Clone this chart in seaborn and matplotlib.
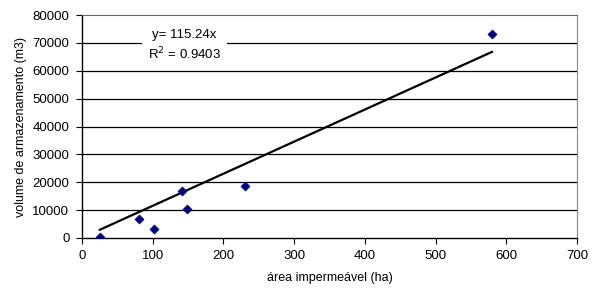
import numpy as np
import pandas as pd
import matplotlib
matplotlib.use("Agg")
import matplotlib.pyplot as plt
import seaborn as sns

# values
area = [25, 80, 102, 142, 149, 230, 580]
volume = [300, 6900, 3300, 16700, 10200, 18800, 73300]
slope = 115.24
r2 = 0.9403

df = pd.DataFrame({"area": area, "volume": volume})
trend = pd.DataFrame({"area": [min(area), max(area)]})
trend["volume"] = slope * trend["area"]

sns.set_style("white")
plt.rcParams["font.family"] = ["Liberation Sans", "DejaVu Sans"]
plt.rcParams["text.color"] = "black"
plt.rcParams["axes.labelcolor"] = "black"
plt.rcParams["xtick.color"] = "black"
plt.rcParams["ytick.color"] = "black"

fig = plt.figure(figsize=(5.98, 2.97), dpi=100)
ax = fig.add_axes([0.137, 0.199, 0.828, 0.750])

# gridlines
for yv in range(10000, 80000, 10000):
    ax.axhline(yv, color="#000000", lw=0.9, zorder=0)

sns.lineplot(data=trend, x="area", y="volume", color="black", lw=1.6, ax=ax, zorder=3)
sns.scatterplot(data=df, x="area", y="volume", marker="D", s=22, color="#000080",
                edgecolor="#000080", ax=ax, zorder=4)

ax.text(145, 69000, f"y= {slope:.2f}x\nR$^2$ = {r2:.4f}",
        ha="center", va="center", fontsize=9.5, linespacing=1.35,
        bbox=dict(facecolor="white", edgecolor="none", pad=4), zorder=5)

ax.set_xlim(0, 700)
ax.set_ylim(0, 80000)
ax.set_xticks(range(0, 701, 100))
ax.set_yticks(range(0, 80001, 10000))
ax.tick_params(axis="both", direction="out", length=4, width=0.8, labelsize=9.5,
               bottom=True, left=True, color="black", pad=5)
ax.set_xlabel("área impermeável (ha)", fontsize=9, labelpad=7)
ax.set_ylabel("volume de armazenamento (m3)", fontsize=9, labelpad=4)

for s in ["left", "bottom"]:
    ax.spines[s].set_color("black")
    ax.spines[s].set_linewidth(1.0)
ax.spines["right"].set_color("#888888")
ax.spines["top"].set_color("#666666")

plt.savefig("out.png", dpi=100)
